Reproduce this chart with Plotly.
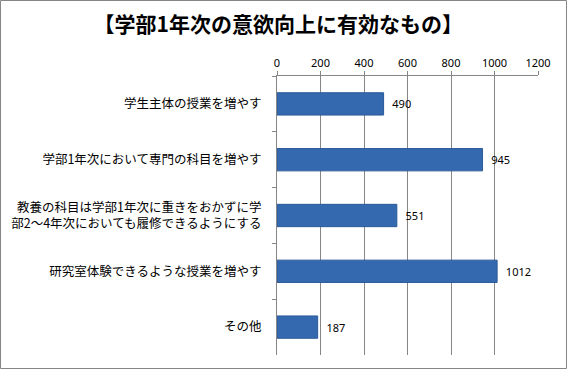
import plotly.graph_objects as go

categories = [
    "学生主体の授業を増やす",
    "学部1年次において専門の科目を増やす",
    "教養の科目は学部1年次に重きをおかずに学<br>部2〜4年次においても履修できるようにする",
    "研究室体験できるような授業を増やす",
    "その他",
]
values = [490, 945, 551, 1012, 187]
tick_vals = [0, 200, 400, 600, 800, 1000, 1200]
title_text = "【学部1年次の意欲向上に有効なもの】"

W, H = 568, 371
L, R, T, B = 277, 30, 76, 16
pw, ph = W - L - R, H - T - B

fig = go.Figure()
fig.add_trace(go.Bar(
    y=categories, x=values, orientation="h",
    marker=dict(color="#3469b0", line=dict(color="#2b5a98", width=1)),
    text=values, texttemplate="  %{x}", textposition="outside",
    textfont=dict(family="Noto Sans, DejaVu Sans", size=11, color="#000000"),
    cliponaxis=False, width=0.4,
))

fig.update_layout(
    width=W, height=H,
    margin=dict(l=L, r=R, t=T, b=B, autoexpand=False),
    paper_bgcolor="white", plot_bgcolor="white",
    showlegend=False,
    font=dict(family="Noto Sans CJK JP", size=12, color="#000000"),
    title=dict(text="<b>" + title_text + "</b>", x=0.49, xanchor="center",
               y=1 - 25 / H, yanchor="middle",
               font=dict(family="Noto Sans CJK JP", size=21, color="#000000")),
    xaxis=dict(
        side="top", range=[0, 1200], tickvals=tick_vals,
        showgrid=True, gridcolor="#868686", gridwidth=1,
        ticks="outside", ticklen=4, tickcolor="#868686",
        showline=True, linecolor="#868686", zeroline=False,
        tickfont=dict(family="Noto Sans, DejaVu Sans", size=11),
        fixedrange=True,
    ),
    yaxis=dict(
        type="category", autorange="reversed",
        ticks="outside", ticklen=4, tickcolor="#868686", tickson="boundaries",
        showline=True, linecolor="#868686", showgrid=False,
        ticklabelstandoff=12,
        tickfont=dict(family="Noto Sans CJK JP", size=12.5),
        fixedrange=True,
    ),
)

# outer chart border
x0 = (0.5 - L) / pw
x1 = (W - 1.5 - L) / pw
y0 = -(B - 2.5) / ph
y1 = 1 + (T - 0.5) / ph
fig.add_shape(type="rect", xref="paper", yref="paper", x0=x0, x1=x1, y0=y0, y1=y1,
              line=dict(color="#868686", width=1), layer="above")

fig.write_html("out.html", config={"displayModeBar": False},
               post_script="document.body.style.margin='0';document.body.style.padding='0';")
